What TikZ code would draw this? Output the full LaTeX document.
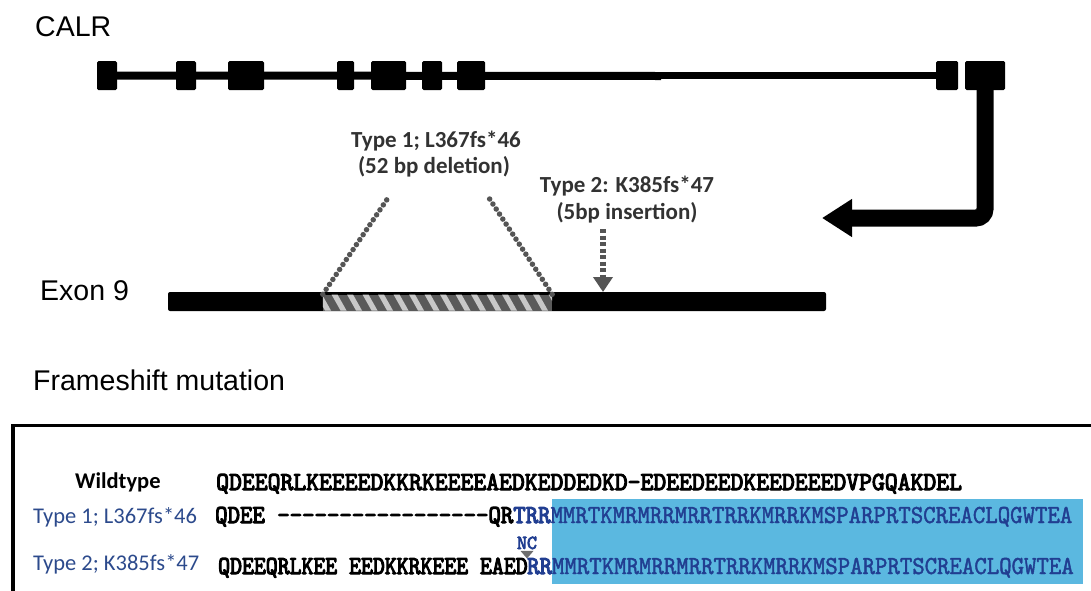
\documentclass[tikz,border=0pt]{standalone}
\usepackage{fontspec}
\setmainfont{Liberation Sans}
\newfontfamily\calfont{Carlito}
% typewriter faces for the protein sequences
\newfontfamily\seqfont[FakeStretch=0.91,FakeBold=1.6]{lmmono10-regular.otf}
\newfontfamily\seqfontb[FakeStretch=0.91,FakeBold=4]{lmmono10-regular.otf}
\newfontfamily\seqwideb[FakeStretch=0.942,FakeBold=4]{lmmono10-regular.otf}
\newfontfamily\seqnarrowb[FakeStretch=0.872,FakeBold=4]{lmmono10-regular.otf}
\newfontfamily\seqplainb[FakeStretch=0.95,FakeBold=3.5]{lmmono10-regular.otf}
\usetikzlibrary{arrows.meta}

\definecolor{labelblue}{RGB}{44,74,140}
\definecolor{seqblue}{RGB}{33,62,145}
\definecolor{tailfill}{RGB}{91,184,224}
\definecolor{notegray}{RGB}{50,50,50}
\definecolor{dotgray}{RGB}{85,85,85}
\definecolor{hatchdark}{RGB}{90,90,90}
\definecolor{hatchlight}{RGB}{200,200,200}
\definecolor{markgray}{RGB}{110,110,110}

% a hyphen that never merges with its neighbour into a dash
\newcommand\hy{-\kern0pt}

\begin{document}
\begin{tikzpicture}[x=1pt,y=-1pt,
  exon/.style={fill=black, inner sep=0pt, minimum height=29pt, rounded corners=1.5pt},
  title/.style={anchor=base west, inner sep=0pt, font=\fontsize{28.5}{34}\selectfont},
  note/.style={anchor=base, inner sep=0pt, text=notegray, font=\calfont\bfseries\fontsize{23}{27}\selectfont},
  rowlabel/.style={anchor=base west, inner sep=0pt, font=\calfont\fontsize{22.5}{27}\selectfont},
  seq/.style={anchor=base west, inner sep=0pt},
  dotline/.style={dotgray, line width=5.5pt, line cap=round, dash pattern=on 0pt off 6pt},
  bigarrow/.style={line width=17pt, rounded corners=9pt, -{Triangle[width=36pt,length=30pt]}},
  insarrow/.style={dotgray, line width=6pt, dash pattern=on 4pt off 2.5pt, -{Triangle[width=19pt,length=15pt]}}
]
\useasboundingbox (0,0) rectangle (1091,590);

% ---- gene model ----
\node[title] (calr) at (35,36) {CALR};

\node[exon, minimum width=20pt] (e1) at (107,75.5) {};
\node[exon, minimum width=20pt] (e2) at (186,75.5) {};
\node[exon, minimum width=36pt] (e3) at (246,75.5) {};
\node[exon, minimum width=17pt] (e4) at (345.5,75.5) {};
\node[exon, minimum width=35pt] (e5) at (388.5,75.5) {};
\node[exon, minimum width=20pt] (e6) at (432,75.5) {};
\node[exon, minimum width=28pt] (e7) at (471,75.5) {};
\node[exon, minimum width=22pt] (e8) at (947,75.5) {};
\node[exon, minimum width=40pt] (e9) at (985,75.5) {};

\coordinate (jn) at (661,76);
\draw[line width=8pt] (e1.center) -- (jn);
\draw[line width=6.5pt] ([yshift=0.5pt]jn) -- (e8.center);

% arrow down to the exon 9 close-up
\coordinate (tipA) at (822,218);
\draw[bigarrow] (e9.south) |- (tipA);

% ---- exon 9 close-up ----
\node[title] (ex9) at (40,300) {Exon 9};
\node[fill=black, inner sep=0pt, minimum width=658pt, minimum height=19pt, rounded corners=2pt] (bar) at (497,301.5) {};
\node[fill=hatchdark, inner sep=0pt, minimum width=229pt, minimum height=16pt] (del) at (437.5,302.5) {};
\begin{scope}
  \clip (del.south west) rectangle (del.north east);
  \foreach \k in {0,...,15} {
    \fill[hatchlight] (316+15.5*\k,294.5) -- ++(6,0) -- ++(9,16) -- ++(-6,0) -- cycle;
  }
\end{scope}

\node[note] (n1a) at (436,147) {Type 1; L367fs*46};
\node[note] (n1b) at (434,173) {(52 bp deletion)};
\node[note] (n2a) at (627,192) {Type 2: K385fs*47};
\node[note] (n2b) at (627,219) {(5bp insertion)};

\coordinate (dl) at (390,195);
\coordinate (dr) at (487,195);
\draw[dotline] (del.north west) -- (dl);
\draw[dotline] (del.north east) -- (dr);

\coordinate (insTop) at (603,229);
\coordinate (ins) at (603,292);
\draw[insarrow] (insTop) -- (ins);

% ---- frameshift panel ----
\node[title] (fs) at (33,390) {Frameshift mutation};
\draw[line width=3.5pt] (13,596) -- (13,425.5) -- (1097,425.5);

\node[fill=tailfill, inner sep=0pt, minimum width=531pt, minimum height=85pt] (tail) at (817.5,541.5) {};

\node[rowlabel] (wtl) at (75,488) {\bfseries Wildtype};
\node[rowlabel, text=labelblue] (t1l) at (33,523) {Type 1; L367fs*46};
\node[rowlabel, text=labelblue] (t2l) at (33,570) {Type 2; K385fs*47};

\node[seq, font=\seqwideb\fontsize{26}{30}\selectfont] (wtseq) at (216,490)
  {QDEEQRLKEEEEDKKRKEEEEAEDKEDDEDKD-EDEEDEEDKEEDEEEDVPGQAKDEL};
\node[seq, font=\fontsize{26}{30}\selectfont] (t1seq) at (215,523)
  {\seqfontb QDEE \hy\hy\hy———\hy\hy\hy\hy\hy\hy\hy\hy———QR\color{seqblue}TRR\seqfont MMRTKMRMRRMRRTRRKMRRKMSPARPRTSCREACLQGWTEA};
\node[seq, font=\seqnarrowb\fontsize{26}{30}\selectfont] (t2seqa) at (218,574)
  {QDEEQRLKEE EEDKKRKEEE EAED};
\node[seq, font=\fontsize{26}{30}\selectfont, text=seqblue] (t2seqb) at (527,574)
  {\seqfontb RR\seqfont MMRTKMRMRRMRRTRRKMRRKMSPARPRTSCREACLQGWTEA};

\node[anchor=base, inner sep=0pt, text=seqblue, font=\seqplainb\fontsize{20}{24}\selectfont] (nc) at (527,549) {NC};
\fill[markgray] ([xshift=-6.5pt,yshift=-1.5pt]nc.south) -- ([xshift=6.5pt,yshift=-1.5pt]nc.south) -- ([yshift=-9pt]nc.south) -- cycle;

\end{tikzpicture}
\end{document}
